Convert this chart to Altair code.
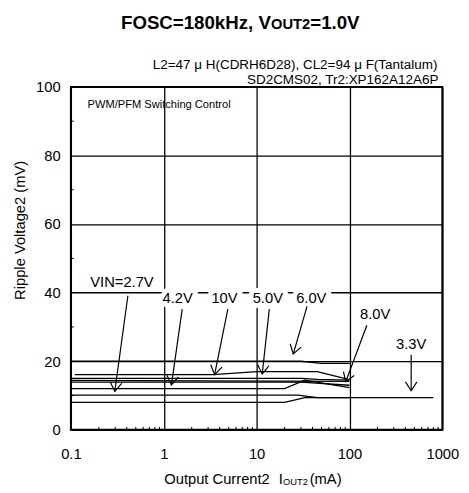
import math
import altair as alt
import pandas as pd

# ---------------- data ----------------
series_names = ["6.0V", "10V", "5.0V", "8.0V", "4.2V", "2.7V", "other", "3.3V"]
cur_60 = [0.1, 30, 50, 100];            rip_60 = [20.0, 20.0, 19.4, 19.4]
cur_10 = [0.11, 3.4, 10, 45, 95];       rip_10 = [16.1, 16.1, 17.0, 17.0, 14.8]
cur_50 = [0.1, 30, 45, 100];            rip_50 = [15.0, 15.0, 14.7, 14.5]
cur_80 = [0.1, 100];                    rip_80 = [14.4, 14.1]
cur_42 = [0.1, 30, 100];                rip_42 = [13.9, 13.9, 13.0]
cur_27 = [0.1, 20, 33, 100];            rip_27 = [12.0, 12.0, 14.5, 12.3]
cur_ot = [0.1, 28, 45, 100];            rip_ot = [10.1, 10.1, 9.4, 9.4]
cur_33 = [0.1, 20, 33, 800];            rip_33 = [8.0, 8.0, 9.4, 9.4]
series_cur = [cur_60, cur_10, cur_50, cur_80, cur_42, cur_27, cur_ot, cur_33]
series_rip = [rip_60, rip_10, rip_50, rip_80, rip_42, rip_27, rip_ot, rip_33]

label_text = ["VIN=2.7V", "4.2V", "10V", "5.0V", "6.0V", "8.0V", "3.3V"]
label_cur = [0.355, 1.41, 4.51, 13.2, 38.8, 189, 462]
label_rip = [43.0, 38.4, 38.4, 38.4, 38.4, 33.8, 24.9]
arrow_from_cur = [0.411, 1.58, 4.90, 13.7, 34.9, 154, 462]
arrow_from_rip = [39.1, 35.2, 35.2, 35.2, 36.0, 30.5, 21.9]
arrow_to_cur = [0.297, 1.21, 3.53, 11.5, 24.8, 91.2, 462]
arrow_to_rip = [11.2, 13.1, 16.1, 16.3, 22.1, 14.0, 11.4]

x_major = [0.1, 1, 10, 100, 1000]
x_minor = [m * d for d in [0.1, 1, 10, 100] for m in range(2, 10)]
y_major = [0, 20, 40, 60, 80, 100]
y_minor = [10, 30, 50, 70, 90]

# ---------------- layout ----------------
W, H = 378, 349
FONT = "Liberation Sans"

rows = []
for name, cs, rs in zip(series_names, series_cur, series_rip):
    for i, (c, r) in enumerate(zip(cs, rs)):
        rows.append({"series": name, "order": i, "current": c, "ripple": r})
df = pd.DataFrame(rows)

xscale = alt.Scale(type="log", domain=[0.1, 1000], nice=False)
yscale = alt.Scale(domain=[0, 100], nice=False, zero=False)

xaxis = alt.Axis(values=x_major, format="~g", labelFont=FONT, labelFontSize=15,
                 labelColor="black", labelPadding=17, ticks=False, tickSize=0,
                 domain=False, grid=True, gridColor="black", gridWidth=1.3,
                 gridOpacity=1, title=None, labelFlush=False, labelOverlap=False)
yaxis = alt.Axis(values=y_major, labelFont=FONT, labelFontSize=15,
                 labelColor="black", labelPadding=11, ticks=False, tickSize=0,
                 domain=False, grid=True, gridColor="black", gridWidth=1.3,
                 gridOpacity=1, title=None, labelFlush=False, labelOverlap=False)


def X(field):
    return alt.X(field, scale=xscale, axis=xaxis)


def Y(field):
    return alt.Y(field, scale=yscale, axis=yaxis)


lines = alt.Chart(df).mark_line(color="black", strokeWidth=1.3).encode(
    x=X("current:Q"), y=Y("ripple:Q"),
    detail="series:N", order="order:Q",
)

xminor = alt.Chart(pd.DataFrame({"v": x_minor})).mark_rule(
    color="black", strokeWidth=1).encode(
    x=X("v:Q"), y=alt.value(H), y2=alt.value(H - 3))

yminor = alt.Chart(pd.DataFrame({"v": y_minor})).mark_rule(
    color="black", strokeWidth=1).encode(
    y=Y("v:Q"), x=alt.value(0), x2=alt.value(3))


def to_px(c, r):
    return (W * (math.log10(c) + 1) / 4, H * (1 - r / 100))


arrows = []
for fc, fr, tc, tr in zip(arrow_from_cur, arrow_from_rip, arrow_to_cur, arrow_to_rip):
    x0, y0 = to_px(fc, fr)
    x1, y1 = to_px(tc, tr)
    ang = math.degrees(math.atan2(-(x1 - x0), (y1 - y0))) % 360
    arrows.append({"fc": fc, "fr": fr, "tc": tc, "tr": tr, "angle": ang})
adf = pd.DataFrame(arrows)

arrow_lines = alt.Chart(adf).mark_rule(color="black", strokeWidth=1.2).encode(
    x=X("fc:Q"), y=Y("fr:Q"), x2="tc:Q", y2="tr:Q")

arrow_heads = alt.Chart(adf).mark_point(
    shape="M-0.65,-1L0,0L0.65,-1", filled=False, stroke="black",
    strokeWidth=1.2, size=324, opacity=1).encode(
    x=X("tc:Q"), y=Y("tr:Q"),
    angle=alt.Angle("angle:Q", scale=None))

ldf = pd.DataFrame({"t": label_text, "c": label_cur, "r": label_rip})
halo = alt.Chart(ldf).mark_text(font=FONT, fontSize=15, fill="white",
                                stroke="white", strokeWidth=10,
                                strokeJoin="round", baseline="middle").encode(
    x=X("c:Q"), y=Y("r:Q"), text="t:N")
labels = alt.Chart(ldf).mark_text(font=FONT, fontSize=15, color="black",
                                  baseline="middle").encode(
    x=X("c:Q"), y=Y("r:Q"), text="t:N")


def txt(s, x, y, size, weight="normal", align="left", baseline="alphabetic", angle=0):
    kw = dict(font=FONT, fontSize=size, fontWeight=weight, align=align,
              baseline=baseline, color="black")
    if angle:
        kw["angle"] = angle
    return alt.Chart(pd.DataFrame({"t": [s]})).mark_text(**kw).encode(
        x=alt.value(x), y=alt.value(y), text="t:N")


texts = [
    txt("FOSC=180kHz, V", 51, -59, 19, "bold"),
    txt("OUT2", 203.6, -59, 15, "bold"),
    txt("=1.0V", 243.6, -59, 19, "bold"),
    txt("L2=47 μ H(CDRH6D28), CL2=94 μ F(Tantalum)", 373, -18, 13.7, align="right"),
    txt("SD2CMS02, Tr2:XP162A12A6P", 374, -3, 13.7, align="right"),
    txt("PWM/PFM Switching Control", 17, 21, 11.3),
    txt("Ripple Voltage2 (mV)", -52, 146, 15, align="center", baseline="middle", angle=270),
    txt("Output Current2", 95, 404, 15),
    txt("I", 211.5, 404, 15),
    txt("OUT2", 215.8, 405, 9.5),
    txt("(mA)", 243, 404, 15),
]

chart = alt.layer(lines, xminor, yminor, halo, labels, arrow_lines, arrow_heads, *texts).properties(
    width=W, height=H,
    autosize=alt.AutoSizeParams(type="none"),
    padding={"left": 64, "top": 76, "right": 19, "bottom": 60},
    background="white",
).configure_view(stroke="black", strokeWidth=2)

chart.save("out.html", embed_options={"renderer": "svg", "actions": False})
